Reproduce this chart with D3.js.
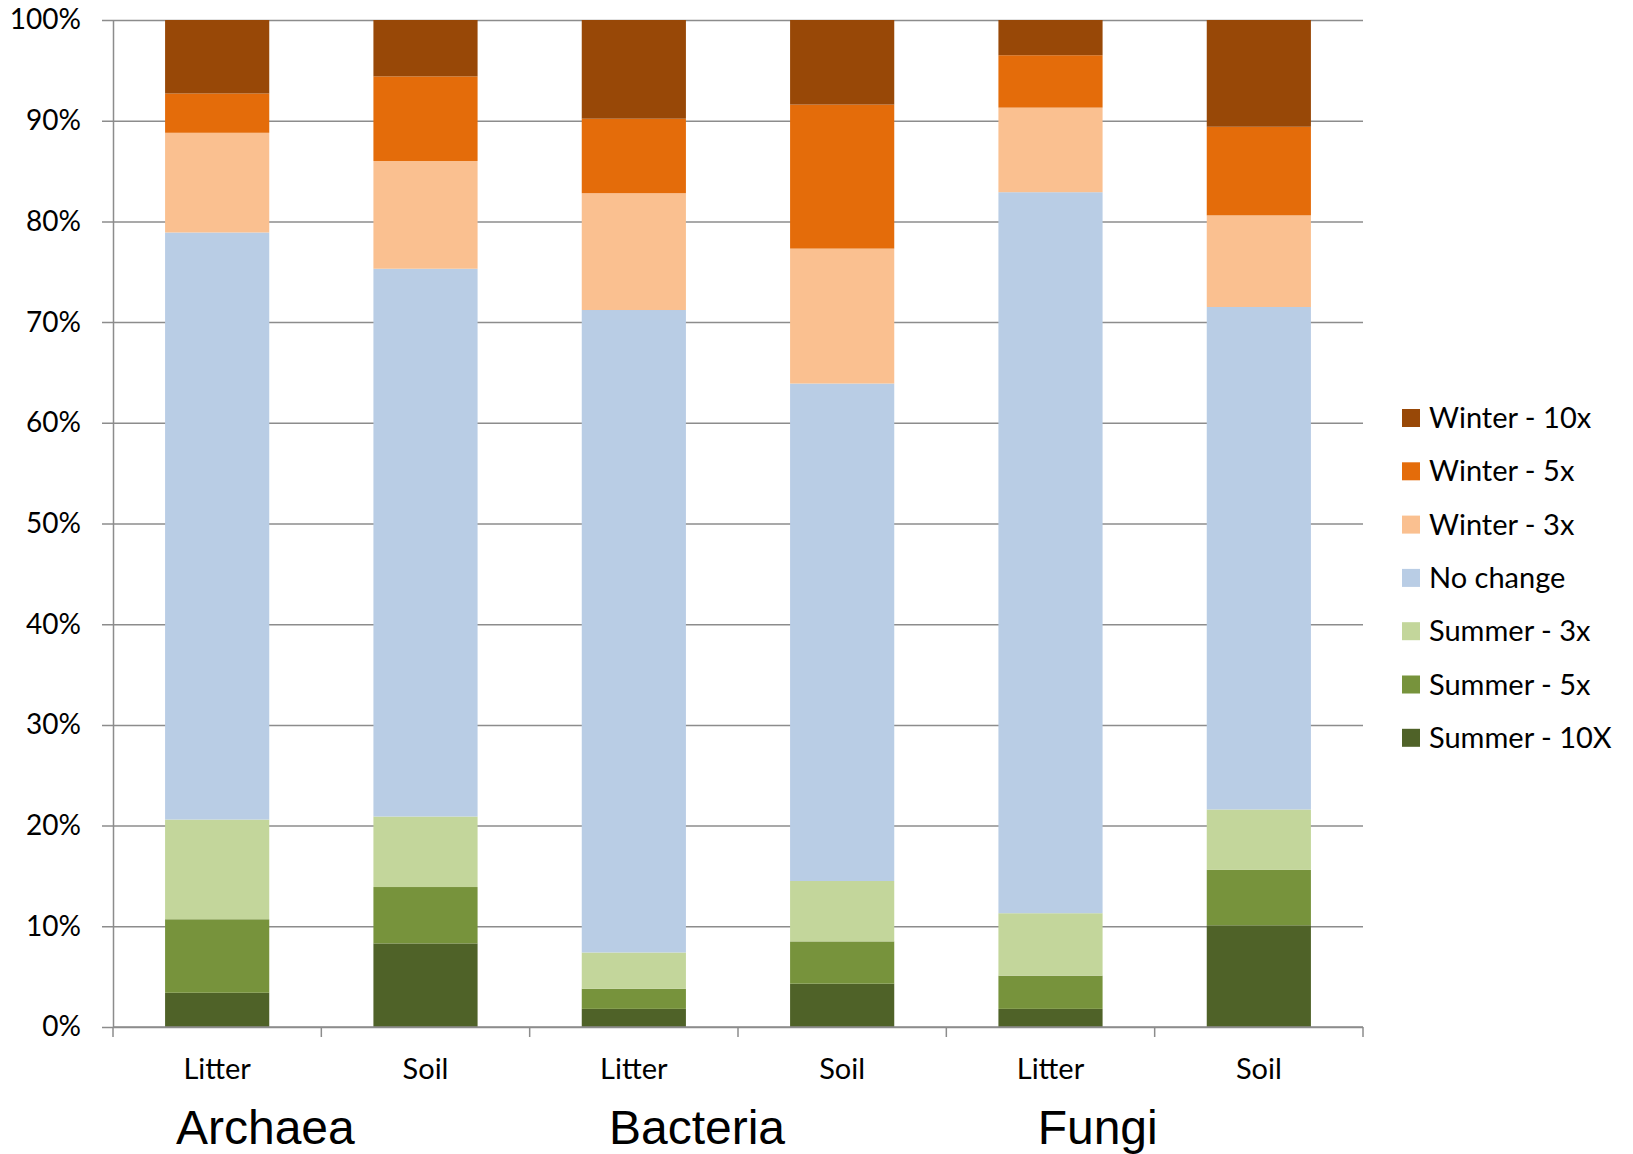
<!DOCTYPE html>
<html>
<head>
<meta charset="utf-8">
<title>Seasonal change by sample</title>
<script src="https://d3js.org/d3.v7.min.js" charset="utf-8"></script>
<style>
  html, body { margin: 0; padding: 0; background: #fff; }
  svg text { fill: #000; }
</style>
</head>
<body>
<div id="chart"></div>
<script>
// categories: one bar per group / sample pair
const groupNames = ["Archaea", "Bacteria", "Fungi"];
const sampleNames = ["Litter", "Soil", "Litter", "Soil", "Litter", "Soil"];
const barGroup = ["Archaea", "Archaea", "Bacteria", "Bacteria", "Fungi", "Fungi"];

// share of each response class (%), bottom to top of the stack
const summer10x = [3.4, 8.3, 1.8, 4.3, 1.8, 10.1];
const summer5x  = [7.3, 5.6, 2.0, 4.2, 3.3, 5.5];
const summer3x  = [9.9, 7.0, 3.6, 6.0, 6.2, 6.0];
const noChange  = [58.3, 54.4, 63.8, 49.4, 71.6, 49.9];
const winter3x  = [9.9, 10.7, 11.6, 13.4, 8.4, 9.1];
const winter5x  = [3.9, 8.4, 7.4, 14.3, 5.2, 8.8];
const winter10x = [7.3, 5.6, 9.8, 8.4, 3.5, 10.6];

const seriesNames = ["Summer - 10X", "Summer - 5x", "Summer - 3x", "No change",
                     "Winter - 3x", "Winter - 5x", "Winter - 10x"];
const seriesValues = [summer10x, summer5x, summer3x, noChange, winter3x, winter5x, winter10x];
const seriesColors = ["#4F6228", "#77933C", "#C3D69B", "#B9CDE5", "#FAC090", "#E46C0A", "#984807"];

const yTicks = d3.range(0, 1.0001, 0.1);

// layout
const width = 1633, height = 1154;
const plotLeft = 113, plotRight = 1363, plotTop = 20, plotBottom = 1027;
const bodyFont = "Lato, 'Open Sans', sans-serif";

const barKeys = sampleNames.map((s, i) => barGroup[i] + " " + s + " " + i);

const rows = barKeys.map((k, i) => {
  const r = { key: k };
  seriesNames.forEach((n, j) => { r[n] = seriesValues[j][i]; });
  return r;
});

const stack = d3.stack().keys(seriesNames).offset(d3.stackOffsetExpand);
const layers = stack(rows);

const x = d3.scaleBand().domain(barKeys).range([plotLeft, plotRight])
  .paddingInner(0.5).paddingOuter(0.25);
const y = d3.scaleLinear().domain([0, 1]).range([plotBottom, plotTop]);
const color = d3.scaleOrdinal().domain(seriesNames).range(seriesColors);

const svg = d3.select("#chart").append("svg")
  .attr("width", width)
  .attr("height", height);

// gridlines (start at the left tick mark, run to the right edge)
const grid = svg.append("g")
  .attr("transform", `translate(${plotLeft - 11},0)`)
  .call(d3.axisRight(y).tickValues(yTicks).tickSize(plotRight - plotLeft + 11).tickFormat(""));
grid.select(".domain").remove();
grid.selectAll("line").attr("stroke", "#8c8c8c").attr("stroke-width", 1.5);

// stacked bars
svg.append("g").selectAll("g")
  .data(layers)
  .join("g")
  .attr("fill", d => color(d.key))
  .selectAll("rect")
  .data(d => d)
  .join("rect")
  .attr("x", d => x(d.data.key))
  .attr("width", x.bandwidth())
  .attr("y", d => y(d[1]))
  .attr("height", d => y(d[0]) - y(d[1]));

// y axis
const yAxis = svg.append("g")
  .attr("transform", `translate(${plotLeft},0)`)
  .call(d3.axisLeft(y).tickValues(yTicks).tickSize(0).tickPadding(32)
    .tickFormat(d3.format(".0%")));
yAxis.select(".domain").attr("stroke", "#8c8c8c").attr("stroke-width", 1.5);
yAxis.selectAll("text")
  .attr("font-family", bodyFont)
  .attr("font-size", 28)
  .attr("fill", "#000");

// x axis: baseline plus ticks at every category boundary
const xAxis = svg.append("g");
xAxis.append("line")
  .attr("x1", plotLeft).attr("x2", plotRight)
  .attr("y1", plotBottom).attr("y2", plotBottom)
  .attr("stroke", "#8c8c8c").attr("stroke-width", 1.5);
xAxis.selectAll(".xtick")
  .data(d3.range(barKeys.length + 1))
  .join("line")
  .attr("class", "xtick")
  .attr("x1", i => plotLeft + i * x.step())
  .attr("x2", i => plotLeft + i * x.step())
  .attr("y1", plotBottom).attr("y2", plotBottom + 10)
  .attr("stroke", "#8c8c8c").attr("stroke-width", 1.5);

xAxis.selectAll(".sample")
  .data(rows)
  .join("text")
  .attr("class", "sample")
  .attr("x", d => x(d.key) + x.bandwidth() / 2)
  .attr("y", 1079)
  .attr("text-anchor", "middle")
  .attr("font-family", bodyFont)
  .attr("font-size", 29)
  .text((d, i) => sampleNames[i]);

// group labels under each pair of bars
const groupShift = [-56, -41, -57];
svg.selectAll(".group")
  .data(groupNames)
  .join("text")
  .attr("class", "group")
  .attr("x", (g, i) => {
    const first = barKeys[barGroup.indexOf(g)];
    return x(first) - x.step() * x.paddingInner() / 2 + x.step() + groupShift[i];
  })
  .attr("y", 1144)
  .attr("text-anchor", "middle")
  .attr("font-family", "'Liberation Sans', Arial, sans-serif")
  .attr("font-size", 48)
  .text(g => g);

// legend, top row is the top of the stack
const legend = svg.append("g")
  .attr("transform", "translate(1402,418)");
const item = legend.selectAll("g")
  .data(seriesNames.slice().reverse())
  .join("g")
  .attr("transform", (d, i) => `translate(0,${i * 53.3})`);
item.append("rect")
  .attr("x", 0).attr("y", -9)
  .attr("width", 18).attr("height", 18)
  .attr("fill", d => color(d));
item.append("text")
  .attr("x", 27)
  .attr("y", 0)
  .attr("dy", "0.35em")
  .attr("font-family", bodyFont)
  .attr("font-size", 29)
  .text(d => d);
</script>
</body>
</html>
